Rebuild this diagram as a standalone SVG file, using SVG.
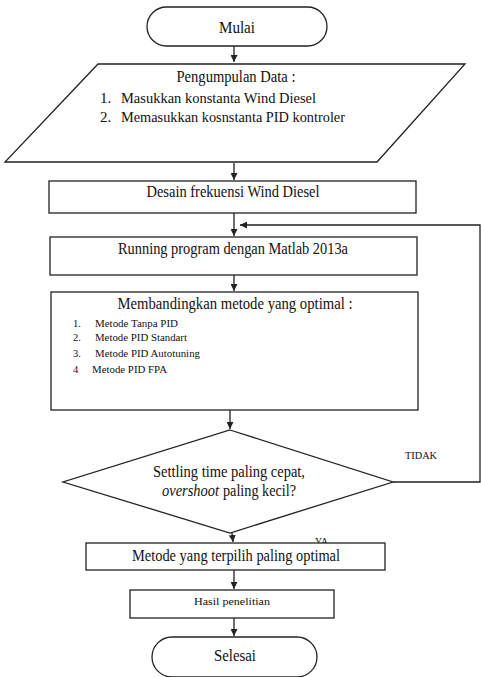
<svg xmlns="http://www.w3.org/2000/svg" width="481" height="677" viewBox="0 0 481 677" font-family="'Liberation Serif', 'Times New Roman', Times, serif">
<style>
.s{fill:#fff;stroke:#222;stroke-width:1.3}
.l{fill:none;stroke:#222;stroke-width:1.3}
text{font-family:'Liberation Serif','Times New Roman',Times,serif;fill:#111}
.t{font-size:16px;text-anchor:middle}
.m{font-size:15px}
.sm{font-size:10.5px}
</style>
<defs>
<marker id="a" viewBox="0 0 10 10" refX="10" refY="5" markerWidth="7" markerHeight="7" markerUnits="userSpaceOnUse" orient="auto"><path d="M0,0L10,5L0,10z" fill="#222"/></marker>
</defs>
<g id="connectors">
<line class="l" x1="234" y1="46" x2="234" y2="62" marker-end="url(#a)"/>
<line class="l" x1="234" y1="163" x2="234" y2="180" marker-end="url(#a)"/>
<line class="l" x1="234" y1="213" x2="234" y2="236" marker-end="url(#a)"/>
<polyline class="l" points="393,482 480,482 480,225 240,225" marker-end="url(#a)"/>
<line class="l" x1="234" y1="275" x2="234" y2="291" marker-end="url(#a)"/>
<line class="l" x1="230" y1="410" x2="230" y2="429" marker-end="url(#a)"/>
<line class="l" x1="232" y1="533" x2="233" y2="542" marker-end="url(#a)"/>
<line class="l" x1="234" y1="570" x2="234" y2="589" marker-end="url(#a)"/>
<line class="l" x1="234" y1="618" x2="234" y2="636" marker-end="url(#a)"/>
<text class="sm" x="405" y="459" textLength="32" lengthAdjust="spacingAndGlyphs">TIDAK</text>
<text class="sm" x="315" y="545" textLength="13" lengthAdjust="spacingAndGlyphs">YA</text>
</g>
<g id="mulai">
<rect class="s" x="147" y="7" width="180" height="39" rx="19.5"/>
<text class="t" x="237" y="33" textLength="36" lengthAdjust="spacingAndGlyphs">Mulai</text>
</g>
<g id="pengumpulan">
<polygon class="s" points="98,64 465,64 377,162 5,162"/>
<text class="t" x="236" y="82" textLength="119" lengthAdjust="spacingAndGlyphs">Pengumpulan Data :</text>
<text class="m" x="100" y="103">1.</text>
<text class="m" x="121" y="103" textLength="195" lengthAdjust="spacingAndGlyphs">Masukkan konstanta Wind Diesel</text>
<text class="m" x="100" y="122">2.</text>
<text class="m" x="121" y="122" textLength="224" lengthAdjust="spacingAndGlyphs">Memasukkan kosnstanta PID kontroler</text>
</g>
<g id="desain">
<rect class="s" x="49" y="181" width="367" height="32"/>
<text class="t" x="233" y="197" textLength="173" lengthAdjust="spacingAndGlyphs">Desain frekuensi Wind Diesel</text>
</g>
<g id="running">
<rect class="s" x="50" y="237" width="367" height="38"/>
<text class="t" x="233" y="254" textLength="230" lengthAdjust="spacingAndGlyphs">Running program dengan Matlab 2013a</text>
</g>
<g id="membandingkan">
<rect class="s" x="51" y="292" width="367" height="118"/>
<text class="t" x="235" y="309" textLength="235" lengthAdjust="spacingAndGlyphs">Membandingkan metode yang optimal  :</text>
<text class="sm" x="73" y="327">1.</text>
<text class="sm" x="95" y="327" textLength="83" lengthAdjust="spacingAndGlyphs">Metode Tanpa PID</text>
<text class="sm" x="73" y="341">2.</text>
<text class="sm" x="95" y="341" textLength="92" lengthAdjust="spacingAndGlyphs">Metode PID Standart</text>
<text class="sm" x="73" y="357">3.</text>
<text class="sm" x="95" y="357" textLength="105" lengthAdjust="spacingAndGlyphs">Metode PID Autotuning</text>
<text class="sm" x="73" y="373">4</text>
<text class="sm" x="92" y="373" textLength="75" lengthAdjust="spacingAndGlyphs">Metode PID FPA</text>
</g>
<g id="keputusan">
<polygon class="s" points="230,430 393,482 230,533 63,482"/>
<text class="t" x="229" y="477" textLength="152" lengthAdjust="spacingAndGlyphs">Settling time paling cepat,</text>
<text class="m" x="162" y="496" font-style="italic" style="font-size:16px" textLength="57" lengthAdjust="spacingAndGlyphs">overshoot</text>
<text class="m" x="223" y="496" style="font-size:16px" textLength="73" lengthAdjust="spacingAndGlyphs">paling kecil?</text>
</g>
<g id="terpilih">
<rect class="s" x="86" y="543" width="299" height="27"/>
<text class="t" x="236" y="561" textLength="208" lengthAdjust="spacingAndGlyphs">Metode yang terpilih paling optimal</text>
</g>
<g id="hasil">
<rect class="s" x="130" y="590" width="204" height="28"/>
<text class="t" x="232" y="605" textLength="76" lengthAdjust="spacingAndGlyphs" style="font-size:11px">Hasil penelitian</text>
</g>
<g id="selesai">
<rect class="s" x="152" y="637" width="165" height="40" rx="20"/>
<text class="t" x="235" y="661" textLength="42" lengthAdjust="spacingAndGlyphs">Selesai</text>
</g>
</svg>
